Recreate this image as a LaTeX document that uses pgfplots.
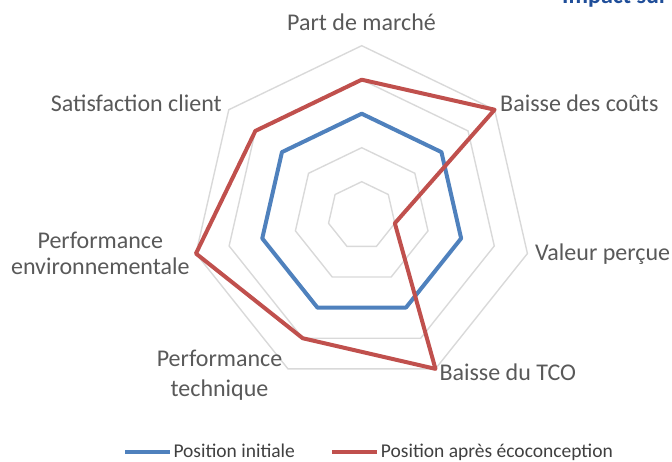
\documentclass[border=0pt]{standalone}
\usepackage{pgfplots}
\pgfplotsset{compat=1.18}
\usepgfplotslibrary{polar}
\usepackage{fontspec}
\setmainfont{Carlito}
\definecolor{cblue}{HTML}{4F81BD}
\definecolor{cred}{HTML}{C0504D}
\definecolor{cgrid}{HTML}{D9D9D9}
\definecolor{clab}{HTML}{595959}
\definecolor{cleg}{HTML}{404040}
\definecolor{ctitle}{HTML}{1F4E99}
\begin{document}
\begin{tikzpicture}[x=1pt,y=1pt]
\useasboundingbox (0,0) rectangle (672,461);
\begin{polaraxis}[
  at={(361.7pt,245.3pt)}, anchor=center,
  scale only axis, width=340pt, height=340pt,
  xmin=0, xmax=360, ymin=0, ymax=5,
  hide axis,
  clip=false,
  legend columns=2,
  legend style={at={(-0.202,-0.194)}, anchor=west, draw=none, fill=none,
    inner sep=0pt, outer sep=0pt,
    font=\fontsize{19.5}{22}\selectfont, text=cleg,
    nodes={inner sep=1.5pt},
    /tikz/every even column/.append style={column sep=34pt}},
  legend image code/.code={\draw[#1] (0pt,0pt) -- (45pt,0pt);},
]
\addplot[cgrid, line width=1.4pt, forget plot] coordinates {(90,1) (38.571,1) (347.143,1) (295.714,1) (244.286,1) (192.857,1) (141.429,1)} -- cycle;
\addplot[cgrid, line width=1.4pt, forget plot] coordinates {(90,2) (38.571,2) (347.143,2) (295.714,2) (244.286,2) (192.857,2) (141.429,2)} -- cycle;
\addplot[cgrid, line width=1.4pt, forget plot] coordinates {(90,3) (38.571,3) (347.143,3) (295.714,3) (244.286,3) (192.857,3) (141.429,3)} -- cycle;
\addplot[cgrid, line width=1.4pt, forget plot] coordinates {(90,4) (38.571,4) (347.143,4) (295.714,4) (244.286,4) (192.857,4) (141.429,4)} -- cycle;
\addplot[cgrid, line width=1.4pt, forget plot] coordinates {(90,5) (38.571,5) (347.143,5) (295.714,5) (244.286,5) (192.857,5) (141.429,5)} -- cycle;
% Part de marche, Baisse des couts, Valeur percue, Baisse du TCO, Perf. technique, Perf. environnementale, Satisfaction client
\addplot[cblue, line width=4pt, line join=round] coordinates {(90,3) (38.571,3) (347.143,3) (295.714,3) (244.286,3) (192.857,3) (141.429,3)} -- cycle;
\addlegendentry{Position initiale}
\addplot[cred, line width=4pt, line join=round] coordinates {(90,4) (38.571,5) (347.143,1) (295.714,5) (244.286,4) (192.857,5) (141.429,4)} -- cycle;
\addlegendentry{Position après écoconception}
\end{polaraxis}
\begin{scope}[every node/.style={text=clab, font=\fontsize{24}{28}\selectfont, inner sep=0pt}]
\node[anchor=base] at (361.5,430) {Part de marché};
\node[anchor=base west] at (500,349.3) {Baisse des coûts};
\node[anchor=base west] at (535,200.5) {Valeur perçue};
\node[anchor=base west] at (439.3,80.5) {Baisse du TCO};
\node[anchor=base] at (219.5,94.3) {Performance};
\node[anchor=base] at (219.5,64.5) {technique};
\node[anchor=base] at (100.3,212.7) {Performance};
\node[anchor=base] at (100.3,186) {environnementale};
\node[anchor=base east] at (222,349.3) {Satisfaction client};
\end{scope}
\node[anchor=base west, inner sep=0pt, text=ctitle, font=\bfseries\fontsize{24}{28}\selectfont] at (562,457) {Impact sur la compétitivité};
\end{tikzpicture}
\end{document}
